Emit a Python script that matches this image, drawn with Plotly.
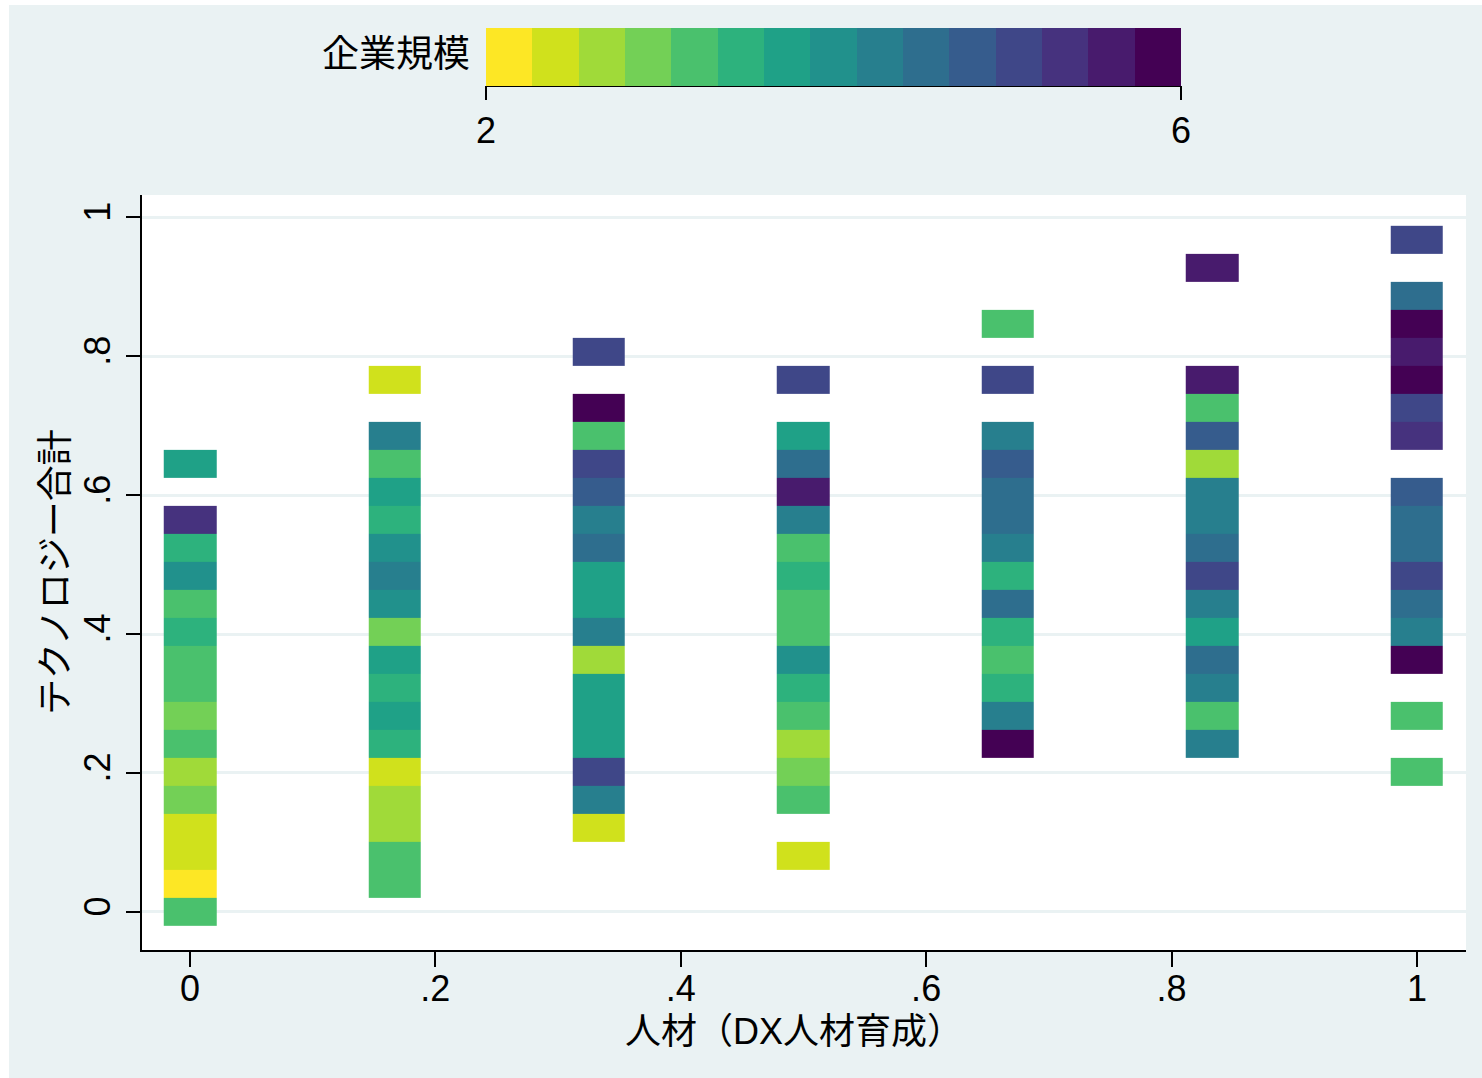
import plotly.graph_objects as go

# DX人材育成 score (x) and binned テクノロジー合計 (y) cell centres
x_vals = [0, 0.1667, 0.3333, 0.5, 0.6667, 0.8333, 1]
y_bins = [0, 0.0403, 0.0806, 0.1209, 0.1612, 0.2015, 0.2418, 0.2821, 0.3224,
          0.3627, 0.403, 0.4433, 0.4836, 0.5239, 0.5642, 0.6045, 0.6448,
          0.6851, 0.7254, 0.7657, 0.806, 0.8463, 0.8866, 0.9269, 0.9672]

# mean 企業規模 per cell, one list per x value (bottom bin first, None = no firms)
size_x0 = [3.2, 2.0, 2.33, 2.45, 3.0, 2.67, 3.25, 2.9, 3.2, 3.14, 3.5, 3.29, 4.0,
           3.4, 5.33, None, 3.75, None, None, None, None, None, None, None, None]
size_x1 = [None, 3.25, 3.17, 2.75, 2.6, 2.5, 3.4, 3.67, 3.5, 3.8, 3.0, 4.0, 4.25,
           3.9, 3.45, 3.71, 3.2, 4.33, None, 2.5, None, None, None, None, None]
size_x2 = [None, None, None, 2.5, 4.2, 5.0, 3.75, 3.78, 3.7, 2.67, 4.29, 3.73, 3.8,
           4.5, 4.33, 4.75, 5.0, 3.25, 6.0, None, 5.0, None, None, None, None]
size_x3 = [None, None, 2.5, None, 3.2, 3.0, 2.75, 3.17, 3.5, 4.0, 3.29, 3.22, 3.4,
           3.25, 4.25, 5.5, 4.5, 3.67, None, 5.0, None, None, None, None, None]
size_x4 = [None, None, None, None, None, None, 6.0, 4.25, 3.5, 3.2, 3.4, 4.5, 3.5,
           4.2, 4.6, 4.43, 4.8, 4.33, None, 5.0, None, 3.2, None, None, None]
size_x5 = [None, None, None, None, None, None, 4.25, 3.2, 4.33, 4.5, 3.75, 4.2, 5.0,
           4.57, 4.29, 4.25, 2.67, 4.8, 3.25, 5.5, None, None, None, 5.6, None]
size_x6 = [None, None, None, None, None, 3.2, None, 3.2, None, 6.0, 4.25, 4.5, 5.0,
           4.6, 4.5, 4.75, None, 5.33, 5.0, 6.0, 5.6, 6.0, 4.5, None, 5.0]

x_ticks = [0, 0.2, 0.4, 0.6, 0.8, 1]
x_ticktext = ["0", ".2", ".4", ".6", ".8", "1"]
y_ticks = [0, 0.2, 0.4, 0.6, 0.8, 1]
y_ticktext = ["0", ".2", ".4", ".6", ".8", "1"]
cbar_ticks = [2, 6]

# 15-step reversed viridis
palette = ["#FDE725", "#D0E11C", "#A0DA39", "#73D056", "#4AC16D", "#2DB27D",
           "#1FA187", "#21918C", "#277F8E", "#2E6E8E", "#365C8D", "#3F4788",
           "#46327E", "#481B6D", "#440154"]
n = len(palette)
colorscale = []
for i, c in enumerate(palette):
    colorscale.append([i / n, c])
    colorscale.append([(i + 1) / n, c])

columns = [size_x0, size_x1, size_x2, size_x3, size_x4, size_x5, size_x6]
z = [[col[k] for col in columns] for k in range(len(y_bins))]

BG = "#EAF2F3"
FONT = "Liberation Sans, Noto Sans CJK JP, sans-serif"
TICK_SIZE = 36
TITLE_SIZE = 36

# plot-area geometry in pixels (for paper-coordinate helpers)
W, H = 1482, 1078
ML, MR, MT, MB = 142, 16, 195, 128
PW, PH = W - ML - MR, H - MT - MB


def px(xp):
    return (xp - ML) / PW


def py(yp):
    return (H - MB - yp) / PH


fig = go.Figure(go.Heatmap(
    x=x_vals, y=y_bins, z=z,
    colorscale=colorscale, zmin=2, zmax=6,
    xgap=152, ygap=0, hoverongaps=False,
    colorbar=dict(
        orientation="h", thickness=58, thicknessmode="pixels",
        len=695, lenmode="pixels",
        x=px(833.5), xanchor="center", y=py(28), yanchor="top",
        xpad=0, ypad=0, outlinewidth=0,
        tickvals=cbar_ticks, ticktext=[str(t) for t in cbar_ticks],
        ticks="outside", ticklen=14, tickwidth=2, tickcolor="black",
        tickfont=dict(size=TICK_SIZE, color="black", family=FONT),
    ),
))

fig.update_layout(
    width=W, height=H,
    margin=dict(l=ML, r=MR, t=MT, b=MB, pad=0),
    paper_bgcolor=BG, plot_bgcolor="white",
    font=dict(family=FONT, color="black"),
    showlegend=False,
    xaxis=dict(
        range=[-0.0391, 1.04], tickvals=x_ticks, ticktext=x_ticktext,
        ticks="outside", ticklen=15, tickwidth=2, tickcolor="black",
        tickfont=dict(size=TICK_SIZE), ticklabelstandoff=-9,
        showline=True, linecolor="black", linewidth=2,
        showgrid=False, zeroline=False,
    ),
    yaxis=dict(
        range=[-0.0547, 1.0317], tickvals=y_ticks, ticktext=y_ticktext,
        tickangle=-90,
        ticks="outside", ticklen=14, tickwidth=2, tickcolor="black",
        tickfont=dict(size=TICK_SIZE), ticklabelstandoff=2,
        showline=True, linecolor="black", linewidth=2,
        showgrid=True, gridcolor=BG, gridwidth=3, zeroline=False,
    ),
    annotations=[
        dict(text="企業規模", xref="paper", yref="paper",
             x=px(472), y=py(55), xanchor="right", yanchor="middle",
             showarrow=False, font=dict(size=TITLE_SIZE + 1)),
        # axis titles
        dict(text="人材（DX人材育成）", xref="paper", yref="paper",
             x=px(794), y=py(1031), xanchor="center", yanchor="middle",
             showarrow=False, font=dict(size=TITLE_SIZE)),
        dict(text="テクノロジー合計", xref="paper", yref="paper",
             x=px(55), y=py(572), xanchor="center", yanchor="middle",
             textangle=-90, showarrow=False, font=dict(size=TITLE_SIZE)),
    ],
    shapes=[
        # axis line under the colour bar
        dict(type="line", xref="paper", yref="paper",
             x0=px(486), x1=px(1181), y0=py(86), y1=py(86),
             line=dict(color="black", width=2)),
        # white outer border strips
        dict(type="rect", xref="paper", yref="paper",
             x0=px(-20), x1=px(9), y0=py(H + 20), y1=py(-20),
             fillcolor="white", line=dict(width=0)),
        dict(type="rect", xref="paper", yref="paper",
             x0=px(-20), x1=px(W + 20), y0=py(5), y1=py(-20),
             fillcolor="white", line=dict(width=0)),
    ],
)

fig.write_html("out.html")
